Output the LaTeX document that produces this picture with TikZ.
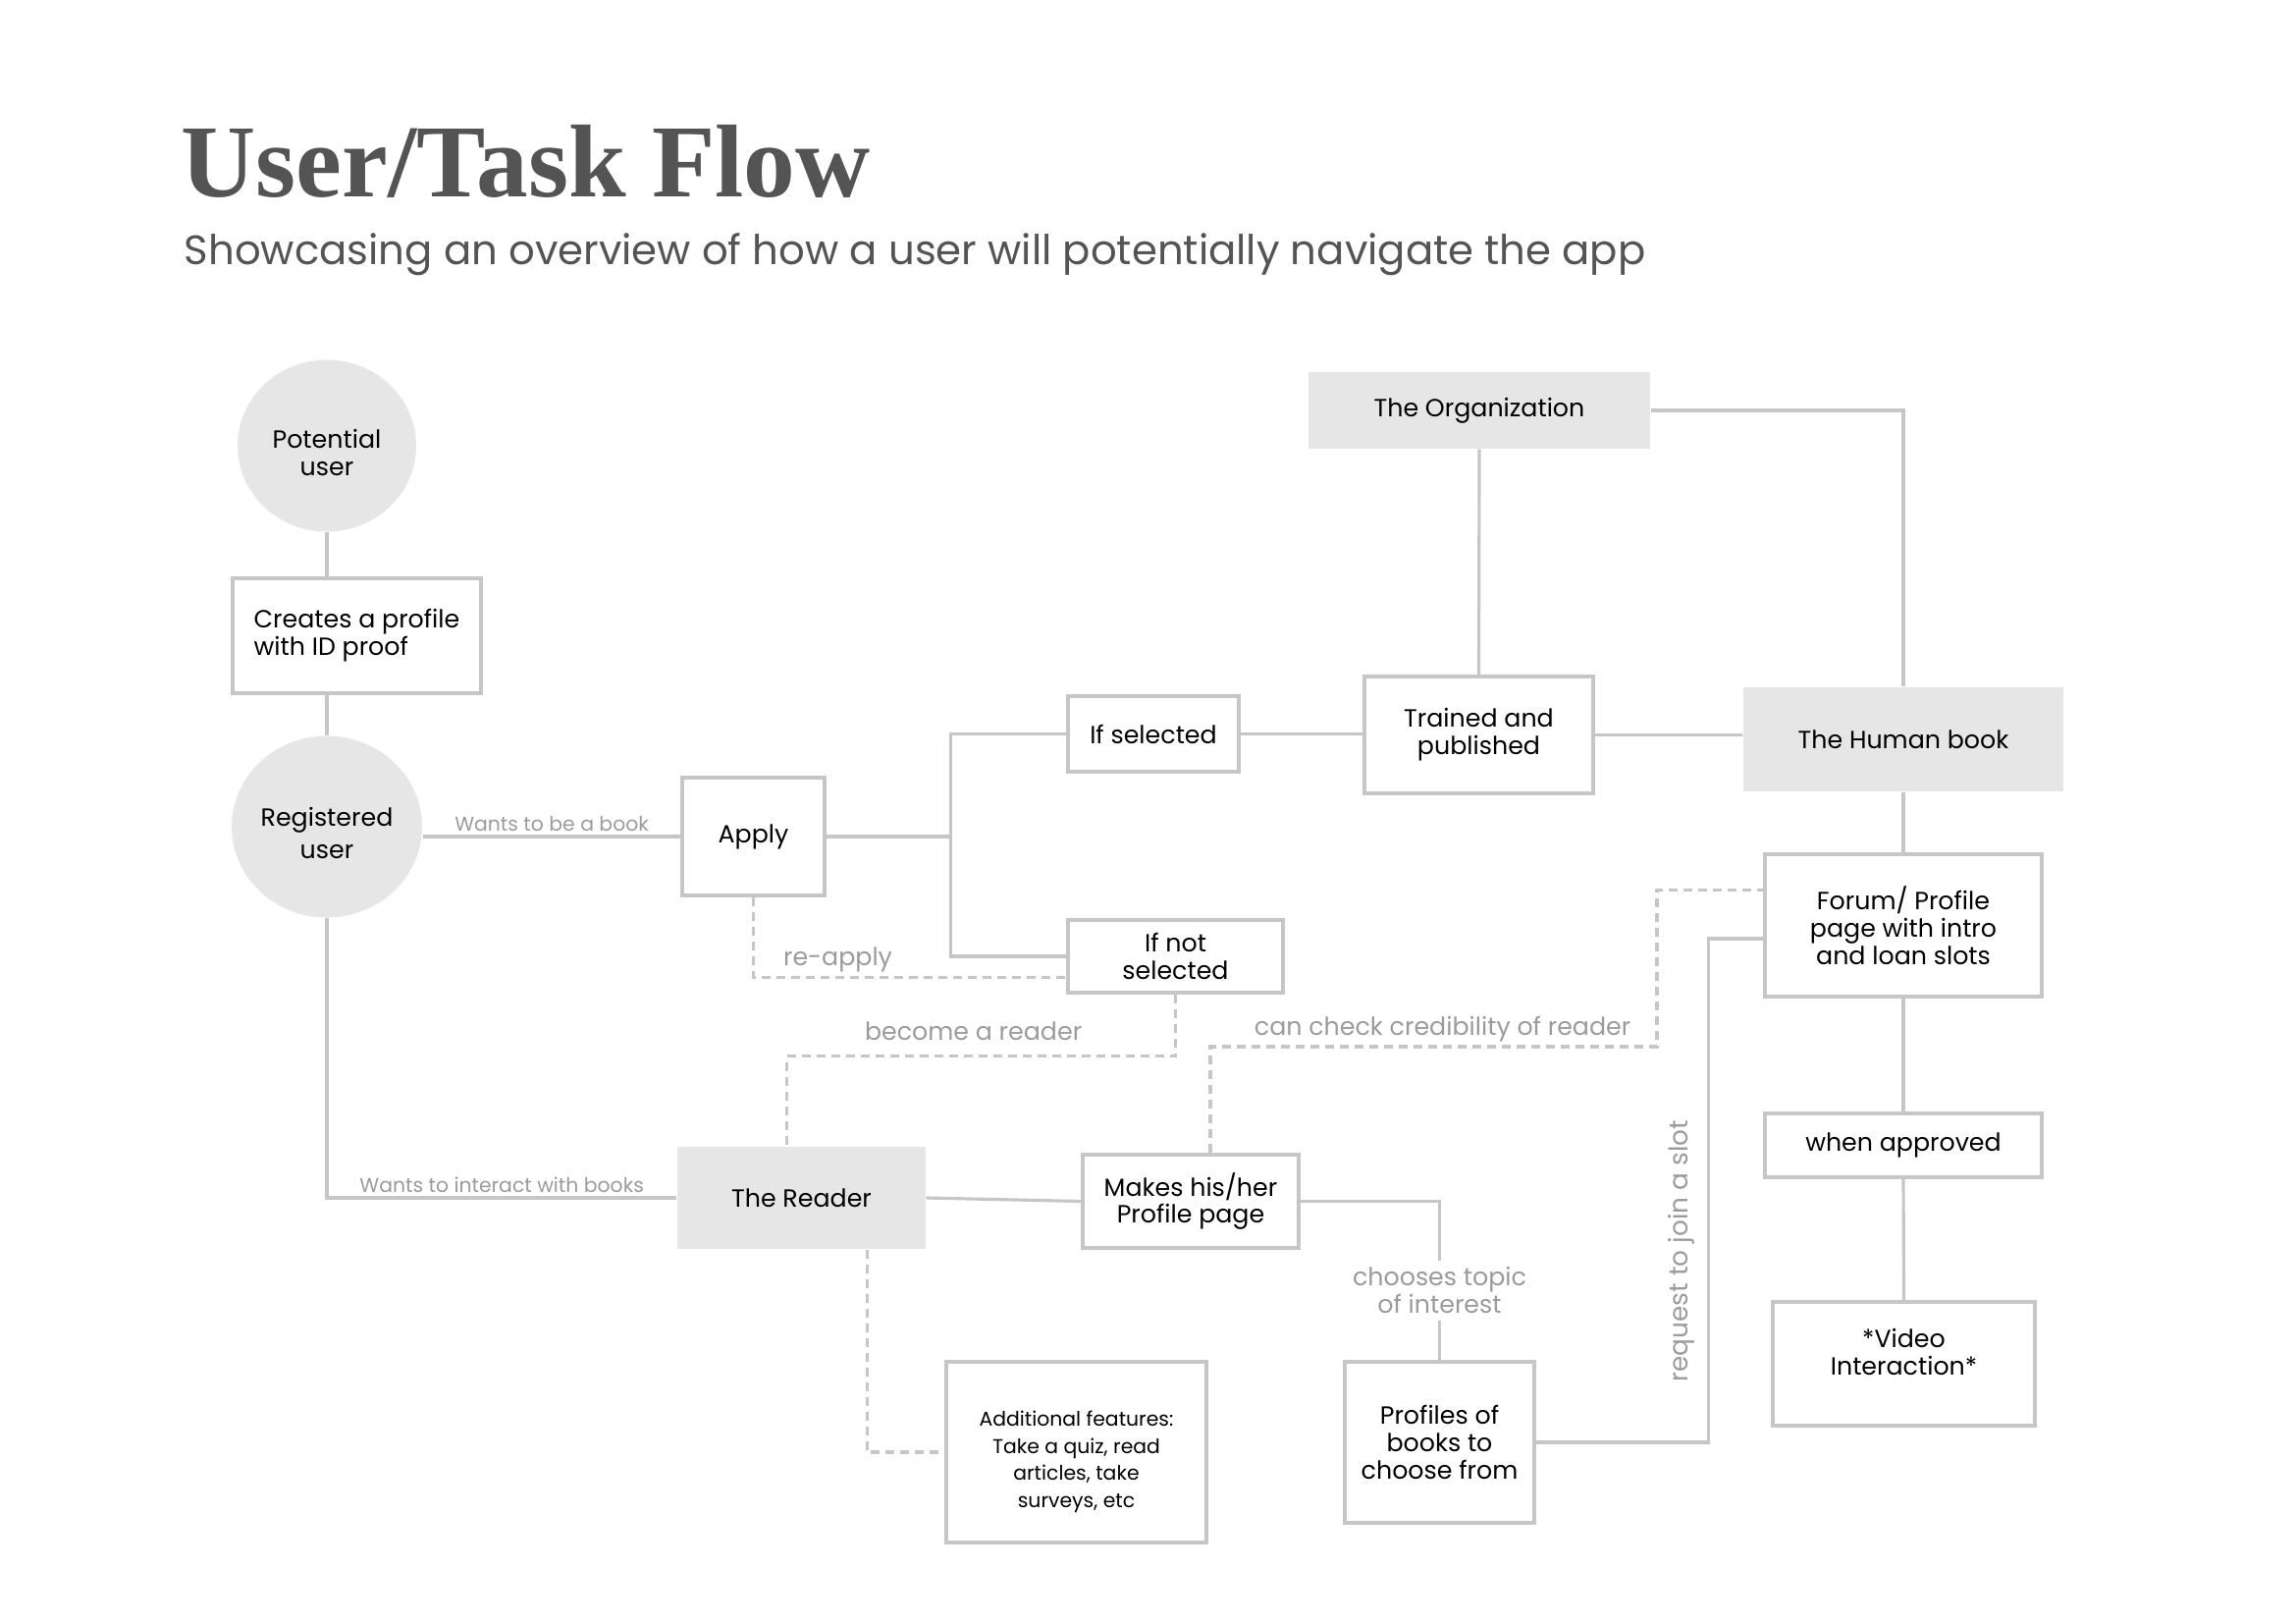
\documentclass[tikz,border=0pt]{standalone}
\usepackage{fontspec}
\setmainfont{Poppins}
\newfontfamily\titulofont{Liberation Serif}
\usetikzlibrary{shapes, positioning}
\definecolor{gristexto}{HTML}{545454}
\definecolor{grisfondo}{HTML}{E6E6E6}
\definecolor{grislinea}{HTML}{C6C6C6}
\definecolor{grisetiqueta}{HTML}{9B9B9B}
\tikzstyle{caja} = [draw=grislinea, line width=0.9pt, fill=white, rectangle, align=center, inner sep=0pt, font=\fontsize{7.2}{7.9}\selectfont]
\tikzstyle{cajagris} = [fill=grisfondo, rectangle, align=center, inner sep=0pt, font=\fontsize{7.2}{7.9}\selectfont]
\tikzstyle{circulo} = [fill=grisfondo, ellipse, align=center, inner sep=0pt, font=\fontsize{7.2}{7.9}\selectfont]
\tikzstyle{linea} = [draw=grislinea, line width=0.9pt]
\tikzstyle{punteada} = [linea, dash pattern=on 0.9mm off 0.6mm]
\tikzstyle{etiqueta} = [text=grisetiqueta, font=\fontsize{7.2}{7.9}\selectfont, inner sep=1pt]
\tikzstyle{etiquetachica} = [text=grisetiqueta, font=\fontsize{5.8}{7}\selectfont, inner sep=1pt]

\begin{document}
\begin{tikzpicture}[x=0.1mm, y=-0.1mm]
	\useasboundingbox (0,0) rectangle (2339,1653);
	% titulo
	\node[anchor=base west, inner sep=0pt, text=gristexto, font=\titulofont\bfseries\fontsize{30}{30}\selectfont] (titulo) at (184,201) {User/Task Flow};
	\node[anchor=base west, inner sep=0pt, text=gristexto, font=\fontsize{11.9}{13}\selectfont] (subtitulo) at (187,270) {Showcasing an overview of how a user will potentially navigate the app};
	% nodos
	\node[circulo, minimum width=18.2mm, minimum height=17.5mm] (potencial) at (333,454) {Potential\\user\\[-4.1mm]};
	\node[caja, align=left, minimum width=25.3mm, minimum height=11.7mm] (perfil) at (363.5,647.5) {Creates a profile\\with ID proof};
	\node[circulo, minimum width=19.4mm, minimum height=18.5mm] (registrado) at (333,842) {Registered\\[0.5mm]user\\[-4mm]};
	\node[caja, minimum width=14.5mm, minimum height=12mm] (aplicar) at (767.5,852) {Apply};
	\node[caja, minimum width=17.4mm, minimum height=7.7mm] (elegido) at (1175,747.5) {If selected};
	\node[caja, minimum width=21.9mm, minimum height=7.4mm] (noelegido) at (1197.5,974) {If not\\selected};
	\node[caja, minimum width=23.3mm, minimum height=11.9mm] (publicado) at (1506.5,748.5) {Trained and\\published};
	\node[cajagris, minimum width=34.8mm, minimum height=7.8mm] (organizacion) at (1507,418) {The Organization};
	\node[cajagris, minimum width=32.6mm, minimum height=10.6mm] (libro) at (1939,753) {The Human book};
	\node[caja, minimum width=28.2mm, minimum height=14.5mm] (foro) at (1939,942.5) {Forum/ Profile\\page with intro\\and loan slots};
	\node[caja, minimum width=28.2mm, minimum height=6.5mm] (aprobado) at (1939,1166.5) {when approved};
	\node[caja, minimum width=26.7mm, minimum height=12.6mm] (video) at (1939.5,1389) {*Video\\Interaction*\\[-0.4mm]};
	\node[cajagris, minimum width=25.3mm, minimum height=10.4mm] (lector) at (816.5,1220) {The Reader};
	\node[caja, minimum width=22mm, minimum height=9.5mm] (paginalector) at (1213,1223.5) {Makes his/her\\Profile page};
	\node[caja, minimum width=19.3mm, minimum height=16.4mm] (perfileslibros) at (1466.5,1469) {Profiles of\\books to\\choose from};
	\node[caja, minimum width=26.5mm, minimum height=18.4mm, font=\fontsize{5.8}{7.9}\selectfont] (extras) at (1096.5,1479) {Additional features:\\Take a quiz, read\\articles, take\\surveys, etc\\[-4.2mm]};
	% conectores
	\draw[linea] (potencial.south) -- (potencial.south |- perfil.north);
	\draw[linea] (registrado.north |- perfil.south) -- (registrado.north);
	\draw[linea] (registrado.east |- aplicar.west) -- node[etiquetachica, above] {Wants to be a book} (aplicar.west);
	\draw[linea] (aplicar.east) -- ++(127,0) coordinate (rama);
	\draw[linea] (elegido.west) -| (rama) |- (noelegido.west);
	\draw[linea] (elegido.east) -- (elegido.east -| publicado.west);
	\draw[linea] (publicado.east) -- (publicado.east -| libro.west);
	\draw[linea] (organizacion.south) -- (publicado.north);
	\draw[linea] (organizacion.east) -| (libro.north);
	\draw[linea] (libro.south) -- (foro.north);
	\draw[linea] (foro.south) -- (aprobado.north);
	\draw[linea] (aprobado.south) -- (video.north);
	\draw[punteada] (aplicar.south) |- node[etiqueta, pos=0.54, anchor=south west] {re-apply} ([yshift=1.7mm]noelegido.south west);
	\draw[punteada] (noelegido.south) -- ++(0,63) -| node[etiqueta, pos=0.26, above, yshift=1.1mm] {become a reader} ([xshift=-1.5mm]lector.north);
	\draw[linea] (registrado.south) |- node[etiquetachica, pos=0.75, above] {Wants to interact with books} (lector.west);
	\draw[linea] (lector.east) -- (paginalector.west);
	\draw[punteada] ([xshift=6.7mm]lector.south) |- (extras.west);
	\coordinate (cruce) at (1688,1066);
	\draw[punteada] ([xshift=2mm]paginalector.north) |- node[etiqueta, pos=0.76, above] {can check credibility of reader} (cruce) |- ([yshift=-3.8mm]foro.north west);
	\draw[linea] (paginalector.east) -| node[etiqueta, pos=0.78, fill=white, align=center, inner ysep=2pt] {chooses topic\\of interest} (perfileslibros.north);
	\draw[linea] (perfileslibros.east) -| node[etiqueta, pos=0.69, rotate=90, anchor=south, inner ysep=3.6pt, font=\fontsize{7.5}{8}\selectfont] {request to join a slot} ([xshift=-5.6mm, yshift=-1.35mm]foro.west) -- ([yshift=-1.35mm]foro.west);
\end{tikzpicture}
\end{document}
